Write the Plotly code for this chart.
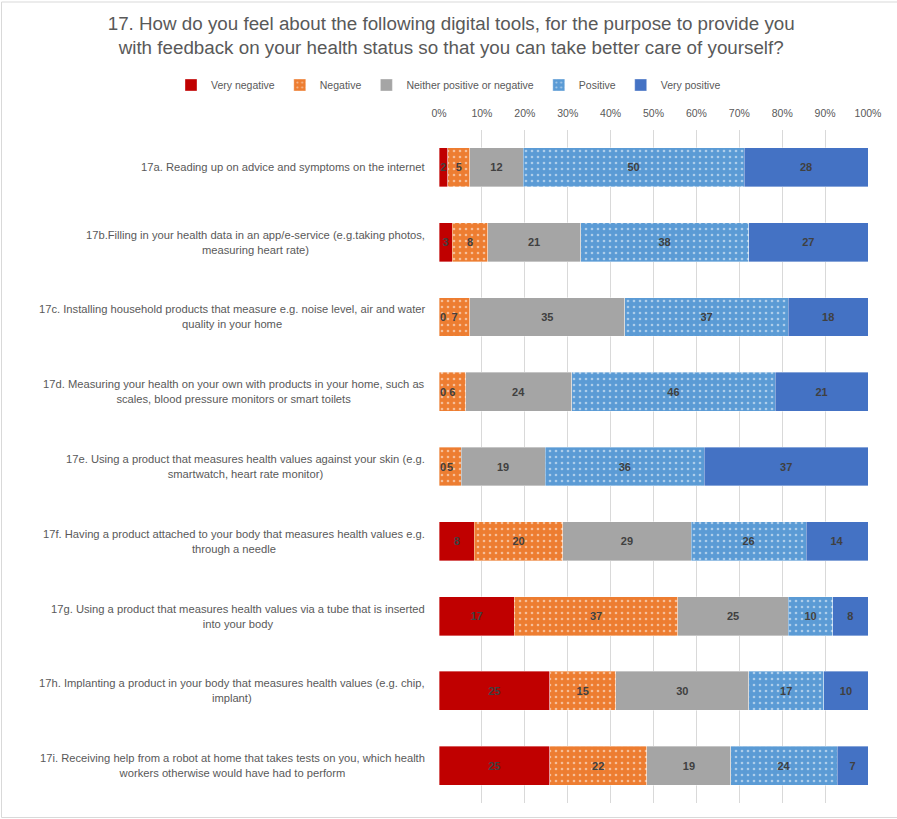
import plotly.graph_objects as go

# Survey items (top to bottom)
items = [
    "17a. Reading up on advice and symptoms on the internet",
    "17b.Filling in your health data in an app/e-service (e.g.taking photos,<br>measuring heart rate)",
    "17c. Installing household products that measure e.g. noise level, air and water<br>quality in your home",
    "17d. Measuring your health on your own with products in your home, such as<br>scales, blood pressure monitors or smart toilets",
    "17e. Using a product that measures health values against your skin (e.g.<br>smartwatch, heart rate monitor)",
    "17f. Having a product attached to your body that measures health values e.g.<br>through a needle",
    "17g. Using a product that measures health values via a tube that is inserted<br>into your body",
    "17h. Implanting a product in your body that measures health values (e.g. chip,<br>implant)",
    "17i. Receiving help from a robot at home that takes tests on you, which health<br>workers otherwise would have had to perform",
]
item_keys = ["17a", "17b", "17c", "17d", "17e", "17f", "17g", "17h", "17i"]

# Response shares per item (%)
very_negative = [2, 3, 0, 0, 0, 8, 17, 25, 25]
negative = [5, 8, 7, 6, 5, 20, 37, 15, 22]
neutral = [12, 21, 35, 24, 19, 29, 25, 30, 19]
positive = [50, 38, 37, 46, 36, 26, 10, 17, 24]
very_positive = [28, 27, 18, 21, 37, 14, 8, 10, 7]

series_names = ["Very negative", "Negative", "Neither positive or negative", "Positive", "Very positive"]
series_values = [very_negative, negative, neutral, positive, very_positive]
series_colors = ["#C00000", "#ED7D31", "#A5A5A5", "#5B9BD5", "#4472C4"]
series_dotted = [False, True, False, True, False]

tick_values = list(range(0, 101, 10))
tick_labels = [f"{v}%" for v in tick_values]

title_text = ("17. How do you feel about the following digital tools, for the purpose to provide you<br>"
              "with feedback on your health status so that you can take better care of yourself?")

FONT = "Liberation Sans, Arial, sans-serif"
TEXT_GREY = "#595959"
LABEL_DARK = "#404040"

# plot-area geometry in pixels
W, H = 897, 819
L, R, T, B = 439, 29, 130, 16
PW, PH = W - L - R, H - T - B

fig = go.Figure()
for name, vals, color, dotted in zip(series_names, series_values, series_colors, series_dotted):
    marker = dict(color=color, line=dict(color="rgba(255,255,255,0.6)", width=0.6))
    if dotted:
        marker["pattern"] = dict(shape=".", fgcolor="white", bgcolor=color,
                                 size=6, solidity=0.15, fillmode="overlay")
    fig.add_trace(go.Bar(
        name=name,
        y=item_keys,
        x=vals,
        orientation="h",
        marker=marker,
        text=[str(v) if v > 0 else "" for v in vals],
        textposition="inside",
        insidetextanchor="middle",
        textfont=dict(family=FONT, size=11, color=LABEL_DARK, weight="bold"),
        hoverinfo="name+x",
    ))

annotations = []
# Zero-valued segments still carry their "0" label at the segment start
for i, key in enumerate(item_keys):
    totals = [sv[i] for sv in series_values]
    row_sum = sum(totals)
    cum = 0
    for v in totals:
        if v == 0:
            annotations.append(dict(
                x=cum / row_sum * 100, y=key, xref="x", yref="y",
                text="<b>0</b>", showarrow=False, xanchor="left", xshift=-1,
                font=dict(family=FONT, size=11, color=LABEL_DARK)))
        cum += v

# Category labels, centred lines, right edge beside the plot
for key, label in zip(item_keys, items):
    annotations.append(dict(
        x=-12 / PW, y=key, xref="paper", yref="y", text=label,
        showarrow=False, xanchor="right", yanchor="middle", align="center",
        font=dict(family=FONT, size=11.2, color=TEXT_GREY)))

fig.update_layout(
    width=W, height=H,
    margin=dict(l=L, r=R, t=T, b=B, autoexpand=False),
    paper_bgcolor="white", plot_bgcolor="white",
    barmode="stack", barnorm="percent", bargap=0.48,
    title=dict(text=title_text, xref="container", x=0.503, xanchor="center",
               yref="container", y=1 - 30 / H, yanchor="middle",
               font=dict(family=FONT, size=18.8, color=TEXT_GREY)),
    legend=dict(orientation="h", xref="paper", yref="paper",
                x=(171 - L) / PW, xanchor="left", y=(H - B - 85) / PH, yanchor="middle",
                font=dict(family=FONT, size=10.5, color=TEXT_GREY),
                traceorder="normal", itemwidth=30,
                bgcolor="rgba(0,0,0,0)"),
    uniformtext=dict(minsize=11, mode="show"),
    annotations=annotations,
    shapes=[dict(type="rect", xref="paper", yref="paper",
                 x0=(1.5 - L) / PW, x1=(899 - L) / PW,
                 y0=(H - B - 817.5) / PH, y1=(H - B - 2) / PH,
                 line=dict(color="#D9D9D9", width=1), layer="below")],
)

fig.update_xaxes(side="top", range=[0, 100], tickvals=tick_values, ticktext=tick_labels,
                 showgrid=True, gridcolor="#D9D9D9", gridwidth=1, zeroline=False,
                 showline=False, ticks="", ticklabelstandoff=10,
                 tickfont=dict(family=FONT, size=10.5, color=TEXT_GREY))
fig.update_yaxes(autorange="reversed", showticklabels=False, showgrid=False,
                 zeroline=False, showline=False, ticks="")

fig.write_html("out.html")
